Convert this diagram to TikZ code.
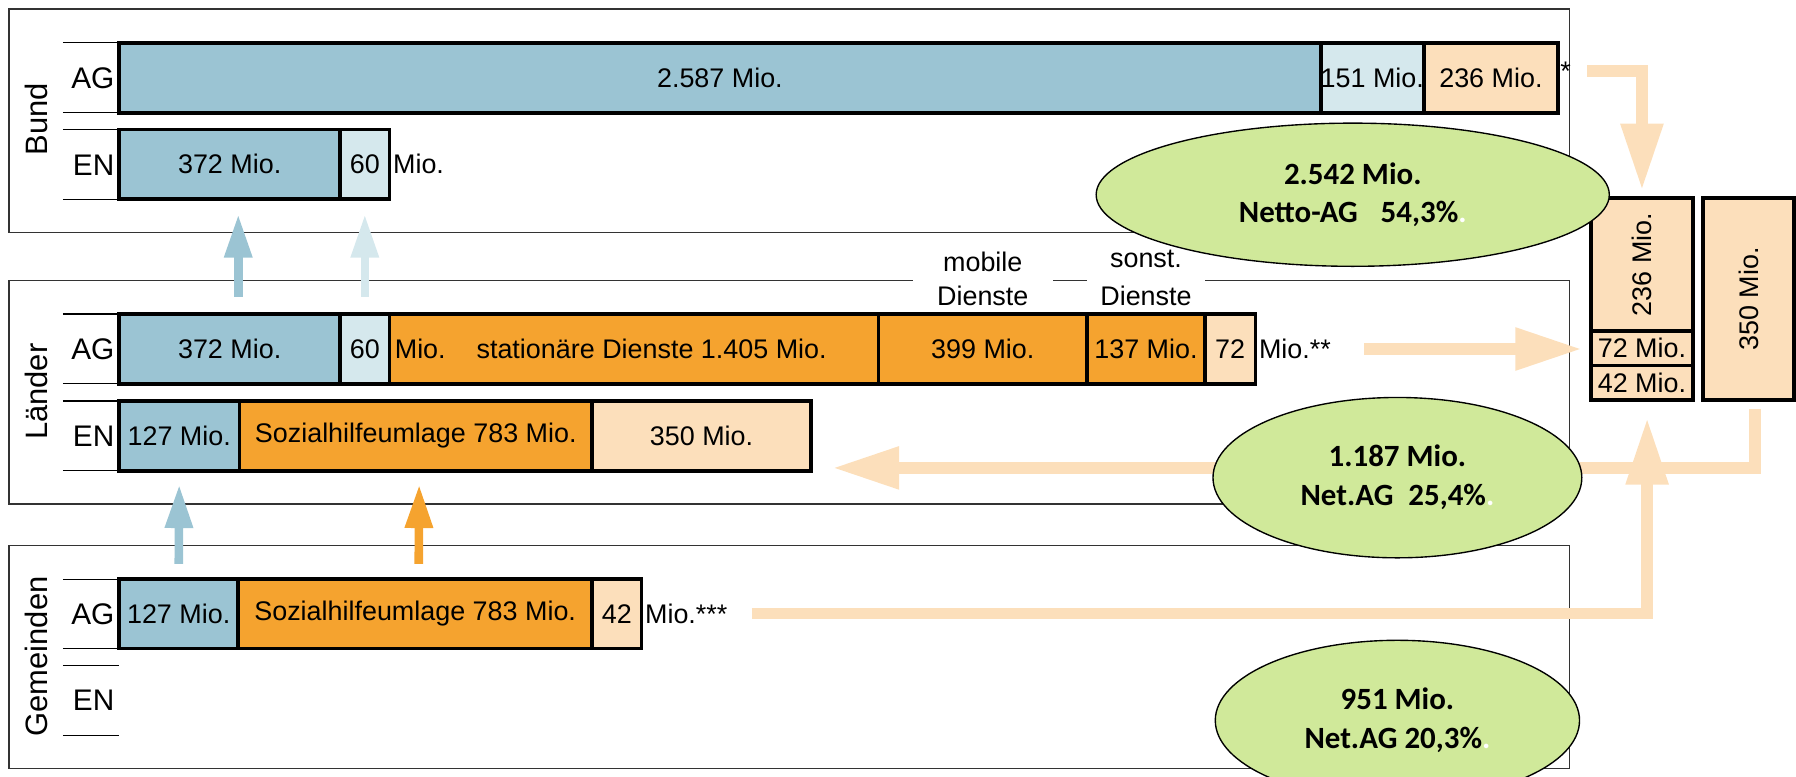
\documentclass[tikz,border=0pt]{standalone}
\usepackage{fontspec}
\setmainfont{Liberation Sans}
\newfontfamily\carlito{Carlito}
\usepackage{graphicx}
\usepackage{tikz}
\usetikzlibrary{shapes.geometric, arrows.meta, positioning}
\definecolor{sky}{RGB}{155, 196, 211}
\definecolor{skylight}{RGB}{213, 232, 237}
\definecolor{peach}{RGB}{252, 223, 187}
\definecolor{amber}{RGB}{245, 163, 47}
\definecolor{lime}{RGB}{208, 233, 154}
\newcommand{\barfont}{\fontsize{23.5}{29}\selectfont}
\newcommand{\rowfont}{\fontsize{26}{30}\selectfont}
\newcommand{\tierfont}{\fontsize{27}{32}\selectfont}
\newcommand{\ovalfont}{\carlito\bfseries\fontsize{27}{34}\selectfont}
\tikzstyle{tierbox} = [rectangle, draw=black!80, line width=1.2pt, inner sep=0pt, outer sep=0pt, minimum width=1362pt, minimum height=195pt]
\tikzstyle{tiername} = [rotate=90, inner sep=0pt, font=\tierfont]
\tikzstyle{rowlabel} = [anchor=east, inner sep=1pt, font=\rowfont]
\tikzstyle{seg} = [rectangle, draw, line width=3.2pt, inner sep=0pt, outer sep=0pt, minimum height=61pt, font=\barfont]
\tikzstyle{note} = [inner sep=3pt, font=\barfont]
\tikzstyle{svclabel} = [fill=white, align=center, inner sep=0pt, font=\barfont]
\tikzstyle{oval} = [ellipse, draw, line width=1.2pt, fill=lime, inner sep=0pt, align=center, font=\ovalfont]
\tikzstyle{flow} = [line width=10pt, draw=peach, -{Triangle[length=58pt, width=35pt]}]
\tikzstyle{lift} = [line width=7.5pt, -{Triangle[length=38pt, width=23pt]}]

\begin{document}
\begin{tikzpicture}[x=1pt, y=-1pt, node distance=0pt]
    \useasboundingbox (0,0) rectangle (1568,678.3);

    % Levels
    \node[tierbox] (bund) at (689,105.5) {};
    \node[tierbox] (laender) at (689,342.5) {};
    \node[tierbox] (gemeinden) at (689,573.5) {};
    \node[tiername] (tbund) at (32,104) {Bund};
    \node[tiername] (tlaender) at (32,342) {Länder};
    \node[tiername] (tgemeinden) at (32,573) {Gemeinden};

    % Rows
    \foreach \y in {37,98,113,174,274,335,350,411,506,566,581,642}
        \draw[line width=1.2pt] (55,\y) -- (104,\y);
    \node[rowlabel] (bag) at (101,68) {AG};
    \node[rowlabel] (ben) at (101,144) {EN};
    \node[rowlabel] (lag) at (101,305) {AG};
    \node[rowlabel] (len) at (101,381) {EN};
    \node[rowlabel] (gag) at (101,536) {AG};
    \node[rowlabel] (gen) at (101,611) {EN};

    % Bund
    \node[seg, fill=sky, minimum width=1049pt, anchor=west] (bag1) at (104,68) {2.587 Mio.};
    \node[seg, fill=skylight, minimum width=90pt, right=of bag1] (bag2) {151 Mio.};
    \node[seg, fill=peach, minimum width=117pt, right=of bag2] (bag3) {236 Mio.};
    \node[note, anchor=west, inner sep=2pt] (bstar) at ([yshift=6pt]bag3.east) {*};
    \node[seg, fill=sky, minimum width=193pt, anchor=west] (ben1) at (104,143.5) {372 Mio.};
    \node[seg, fill=skylight, minimum width=43pt, right=of ben1] (ben2) {60};
    \node[note, anchor=west] (bmio) at (ben2.east) {Mio.};

    % Laender
    \node[seg, fill=sky, minimum width=193pt, anchor=west] (lag1) at (104,304.7) {372 Mio.};
    \node[seg, fill=skylight, minimum width=43pt, right=of lag1] (lag2) {60};
    \node[seg, fill=amber, minimum width=427pt, right=of lag2] (lag3) {};
    \node[seg, fill=amber, minimum width=182pt, right=of lag3] (lag4) {399 Mio.};
    \node[seg, fill=amber, minimum width=103pt, right=of lag4] (lag5) {137 Mio.};
    \node[seg, fill=peach, minimum width=44pt, right=of lag5] (lag6) {72};
    \node[note, anchor=west, inner sep=0pt] (lsta) at ([xshift=4.5pt]lag3.west) {Mio.\hspace{27pt}stationäre Dienste 1.405 Mio.};
    \node[note, anchor=west] (lmio) at (lag6.east) {Mio.**};
    \node[svclabel, minimum width=122pt] (mobil) at (858,243.5) {mobile\\Dienste};
    \node[svclabel, minimum width=103pt, font=\fontsize{23.5}{33}\selectfont] (sonst) at (1000.5,242.5) {sonst.\\Dienste};
    \node[seg, fill=sky, minimum width=105pt, anchor=west] (len1) at (104,380.5) {127 Mio.};
    \node[seg, fill=amber, minimum width=308pt, right=of len1] (len2) {Sozialhilfeumlage 783 Mio.};
    \node[seg, fill=peach, minimum width=191pt, right=of len2] (len3) {350 Mio.};

    % Gemeinden
    \node[seg, fill=sky, minimum width=104pt, anchor=west] (gag1) at (104,535.7) {127 Mio.};
    \node[seg, fill=amber, minimum width=309pt, right=of gag1] (gag2) {Sozialhilfeumlage 783 Mio.};
    \node[seg, fill=peach, minimum width=43pt, right=of gag2] (gag3) {42};
    \node[note, anchor=west] (gmio) at (gag3.east) {Mio.***};

    % Right column
    \node[seg, fill=peach, minimum width=89pt, minimum height=116pt] (r236) at (1433.5,231) {\rotatebox{90}{236 Mio.}};
    \node[seg, fill=peach, minimum width=89pt, minimum height=30pt, below=of r236] (r72) {72 Mio.};
    \node[seg, fill=peach, minimum width=89pt, minimum height=30pt, below=of r72] (r42) {42 Mio.};
    \node[seg, fill=peach, minimum width=79pt, minimum height=176pt] (r350) at (1526.5,261) {\rotatebox{90}{350 Mio.}};

    % Transfers
    \draw[lift, draw=sky, shorten <=15pt, shorten >=13pt] ([xshift=7.5pt]lag1.north) -- ([xshift=7.5pt]ben1.south);
    \draw[lift, draw=skylight, shorten <=15pt, shorten >=13pt] (lag2.north) -- (ben2.south);
    \draw[lift, draw=sky, shorten <=13pt, shorten >=12pt] (gag1.north) -- (len1.south);
    \draw[lift, draw=amber, shorten <=13pt, shorten >=12pt] ([xshift=3pt]gag2.north) -- ([xshift=3pt]len2.south);
    \draw[flow] ([xshift=5.5pt, yshift=-8pt]r350.south) |- ([xshift=19pt, yshift=2.5pt]len3.south east);
    \draw[flow] ([xshift=12pt]bstar.east) -| ([yshift=7pt]r236.north);
    \draw[flow] ([xshift=26pt]lmio.east) -- ([xshift=-8pt]lmio.east -| r72.west);
    \draw[flow] ([xshift=18pt]gmio.east) -| ([xshift=4.5pt, yshift=-16pt]r42.south);

    % Net shares
    \node[oval, minimum width=448pt, minimum height=125pt] (nbund) at (1181,170) {2.542 Mio.\\Netto-AG\hspace{20pt}54,3\%\textcolor{white}{.}};
    \node[oval, minimum width=322pt, minimum height=140pt] (nlaender) at (1220,417) {1.187 Mio.\\Net.AG\hspace{13pt}25,4\%\textcolor{white}{.}};
    \node[oval, minimum width=318pt, minimum height=140pt] (ngemeinden) at (1220,629) {951 Mio.\\Net.AG 20,3\%\textcolor{white}{.}};
\end{tikzpicture}
\end{document}
